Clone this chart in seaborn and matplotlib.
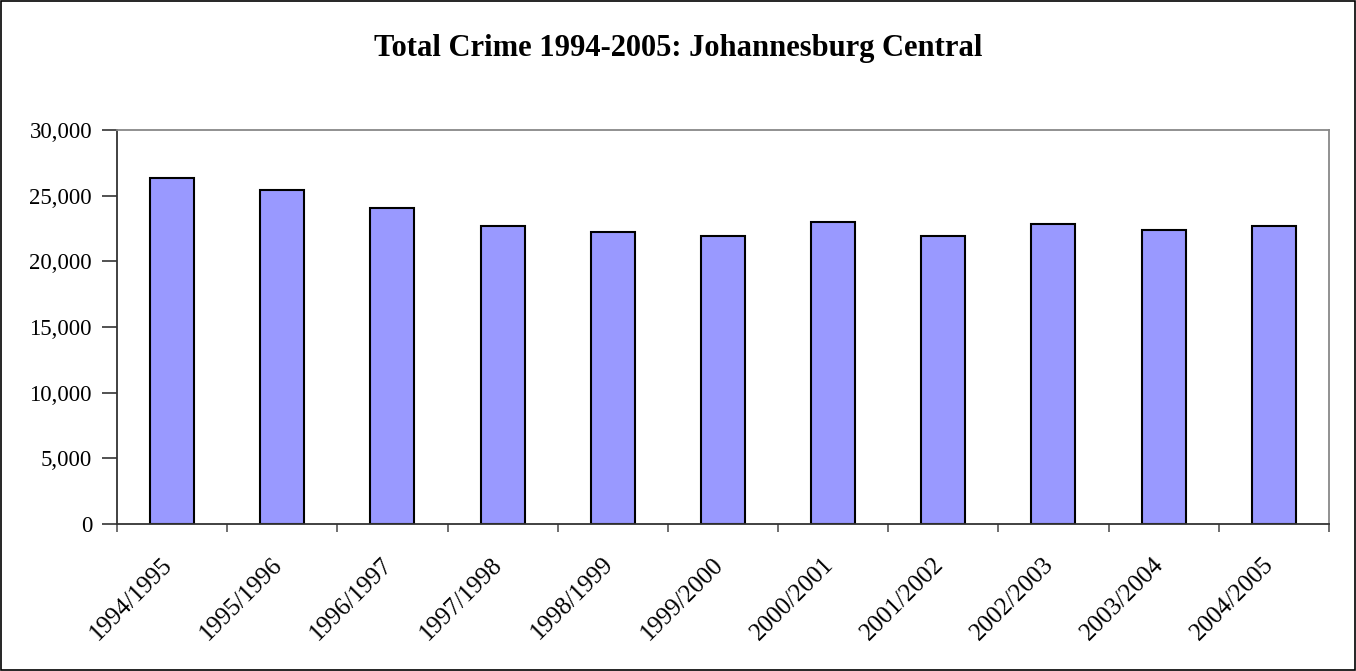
import matplotlib
matplotlib.use("Agg")
import matplotlib.pyplot as plt
import matplotlib.transforms as mtransforms
import seaborn as sns
import pandas as pd
from matplotlib.ticker import FuncFormatter, FixedLocator
from matplotlib.patches import Rectangle

years = ["1994/1995", "1995/1996", "1996/1997", "1997/1998", "1998/1999", "1999/2000",
         "2000/2001", "2001/2002", "2002/2003", "2003/2004", "2004/2005"]
total_crime = [26350, 25440, 24070, 22670, 22240, 21930, 23000, 21930, 22870, 22390, 22700]

df = pd.DataFrame({"year": years, "crime": total_crime})

sns.set_style("white")
plt.rcParams['font.family'] = ['Liberation Serif', 'DejaVu Serif']
plt.rcParams['text.color'] = 'black'
plt.rcParams['xtick.color'] = 'black'
plt.rcParams['ytick.color'] = 'black'

fig = plt.figure(figsize=(13.56, 6.71), dpi=100)
ax = fig.add_axes([0.0863, 0.219, 0.8937, 0.587])

sns.barplot(data=df, x="year", y="crime", color="#9999FF", saturation=1,
            width=0.4, edgecolor="black", linewidth=1.5, ax=ax)

ax.set_xlim(-0.5, len(years) - 0.5)
ax.set_ylim(0, 30000)
ax.set_yticks(range(0, 30001, 5000))
ax.yaxis.set_major_formatter(FuncFormatter(lambda v, p: f"{int(v):,}"))
ax.set_xlabel("")
ax.set_ylabel("")

# ticks at category boundaries, labels at centres
ax.xaxis.set_minor_locator(FixedLocator([i - 0.5 for i in range(len(years) + 1)]))
ax.tick_params(axis="x", which="major", length=0, pad=21)
ax.tick_params(axis="x", which="minor", length=6, width=1.2, color="#555555", direction="out", bottom=True)
ax.tick_params(axis="y", length=11, width=1.2, color="#333333", direction="out", left=True,
               labelsize=16.5, pad=7)
shift = mtransforms.ScaledTranslation(-11 / 100, 0, fig.dpi_scale_trans)
for lbl in ax.get_xticklabels():
    lbl.set_fontsize(18)
    lbl.set_rotation(45)
    lbl.set_ha("right")
    lbl.set_rotation_mode("anchor")
    lbl.set_transform(lbl.get_transform() + shift)

for side in ["left", "bottom"]:
    ax.spines[side].set_color("#333333")
    ax.spines[side].set_linewidth(1.3)
for side in ["top", "right"]:
    ax.spines[side].set_color("#888888")
    ax.spines[side].set_linewidth(1.3)

fig.text(0.5, 0.927, "Total Crime 1994-2005: Johannesburg Central", ha="center", va="center",
         fontsize=22, fontweight="bold")

fig.patches.append(Rectangle((0.001, 0.001), 0.998, 0.998, transform=fig.transFigure,
                             fill=False, edgecolor="black", linewidth=1.2))

fig.savefig("out.png", dpi=100)
